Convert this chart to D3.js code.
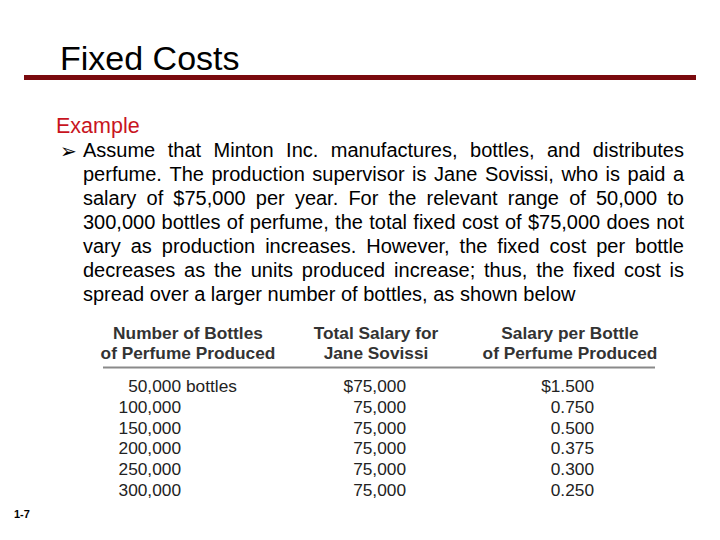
<!DOCTYPE html>
<html><head><meta charset="utf-8">
<script src="https://cdn.jsdelivr.net/npm/d3@7"></script>
<style>html,body{margin:0;padding:0;background:#fff;}</style>
</head><body>
<script>
// ---- data ----
const title = "Fixed Costs";
const subtitle = "Example";
const paragraphLines = [
  "Assume that Minton Inc. manufactures, bottles, and distributes",
  "perfume. The production supervisor is Jane Sovissi, who is paid a",
  "salary of $75,000 per year. For the relevant range of 50,000 to",
  "300,000 bottles of perfume, the total fixed cost of $75,000 does not",
  "vary as production increases. However, the fixed cost per bottle",
  "decreases as the units produced increase; thus, the fixed cost is",
  "spread over a larger number of bottles, as shown below"
];
const headers = [
  ["Number of Bottles", "of Perfume Produced"],
  ["Total Salary for", "Jane Sovissi"],
  ["Salary per Bottle", "of Perfume Produced"]
];
const bottles = [50000, 100000, 150000, 200000, 250000, 300000];
const totalSalary = [75000, 75000, 75000, 75000, 75000, 75000];
const salaryPerBottle = [1.500, 0.750, 0.500, 0.375, 0.300, 0.250];
const slideNumber = "1-7";

// ---- drawing ----
const W = 720, H = 540;
const svg = d3.select("body").append("svg").attr("width", W).attr("height", H)
  .style("font-family", "Arial, 'Liberation Sans', sans-serif");

svg.append("text").attr("x", 60).attr("y", 70).attr("font-size", 34)
  .attr("fill", "#000").text(title);
svg.append("rect").attr("x", 24).attr("y", 75).attr("width", 672).attr("height", 5)
  .attr("fill", "#7a0a0e");

svg.append("text").attr("x", 56).attr("y", 133).attr("font-size", 21.5)
  .attr("fill", "#c8141e").text(subtitle);

// bullet
svg.append("text").attr("x", 60).attr("y", 158).attr("font-size", 20)
  .attr("font-family", "DejaVu Sans").attr("fill", "#000").text("\u27A2");

// justified paragraph
const pX0 = 83, pX1 = 684, pY0 = 157, pStep = 24, pSize = 20;
paragraphLines.forEach((line, i) => {
  const words = line.split(" ");
  const y = pY0 + i * pStep;
  const g = svg.append("g");
  const nodes = words.map(w => g.append("text").attr("y", y).attr("font-size", pSize)
    .attr("fill", "#000").text(w));
  const widths = nodes.map(n => n.node().getComputedTextLength());
  const total = d3.sum(widths);
  const isLast = i === paragraphLines.length - 1;
  const gap = isLast ? pSize * 0.278 : (pX1 - pX0 - total) / (words.length - 1);
  let x = pX0;
  nodes.forEach((n, k) => { n.attr("x", x); x += widths[k] + gap; });
});

// table
const colCenters = [188, 376, 570];
const colRight = [181, 406, 594];
const headFill = "#333";
headers.forEach((h, c) => {
  h.forEach((t, r) => {
    svg.append("text").attr("x", colCenters[c]).attr("y", 339 + r * 20)
      .attr("text-anchor", "middle").attr("font-size", 17.3).attr("font-weight", "bold")
      .attr("fill", headFill).text(t);
  });
});
svg.append("line").attr("x1", 103).attr("x2", 655).attr("y1", 367.5).attr("y2", 367.5)
  .attr("stroke", "#8a8a8a").attr("stroke-width", 2);

const rowY = d3.scalePoint().domain(d3.range(bottles.length)).range([392, 496]);
const fmtInt = d3.format(",");
const fmtDec = d3.format(".3f");
const dataFill = "#222", dSize = 17.3;

const rows = svg.append("g").selectAll("g").data(bottles.map((b, i) => ({
  i, b, s: totalSalary[i], p: salaryPerBottle[i]
}))).join("g");

rows.append("text").attr("x", colRight[0]).attr("y", d => rowY(d.i))
  .attr("text-anchor", "end").attr("font-size", dSize).attr("fill", dataFill)
  .text(d => fmtInt(d.b));
rows.filter(d => d.i === 0).append("text").attr("x", colRight[0] + 5).attr("y", d => rowY(d.i))
  .attr("font-size", dSize).attr("fill", dataFill).text("bottles");
rows.append("text").attr("x", colRight[1]).attr("y", d => rowY(d.i))
  .attr("text-anchor", "end").attr("font-size", dSize).attr("fill", dataFill)
  .text(d => (d.i === 0 ? "$" : "") + fmtInt(d.s));
rows.append("text").attr("x", colRight[2]).attr("y", d => rowY(d.i))
  .attr("text-anchor", "end").attr("font-size", dSize).attr("fill", dataFill)
  .text(d => (d.i === 0 ? "$" : "") + fmtDec(d.p));

svg.append("text").attr("x", 14).attr("y", 518).attr("font-size", 11)
  .attr("font-weight", "bold").attr("fill", "#000").text(slideNumber);
</script>
</body></html>
